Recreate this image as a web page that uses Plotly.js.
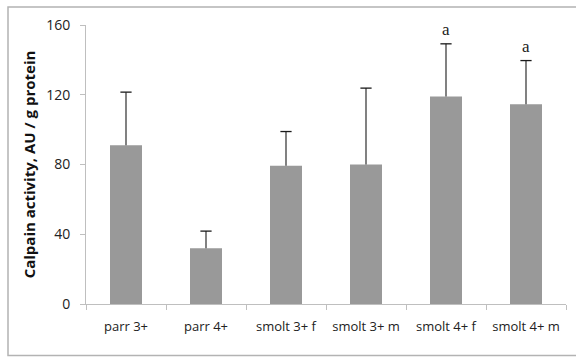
<!DOCTYPE html>
<html>
<head>
<meta charset="utf-8">
<script src="https://cdn.plot.ly/plotly-3.0.1.min.js"></script>
<style>
html,body{margin:0;padding:0;background:#fff;}
#chart{width:576px;height:357px;}
</style>
</head>
<body>
<div id="chart"></div>
<script>
const categories = ["parr 3+", "parr 4+", "smolt 3+ f", "smolt 3+ m", "smolt 4+ f", "smolt 4+ m"];
const values = [91, 32, 79.3, 80, 119, 114.6];
const errorUp = [30.5, 9.8, 19.6, 43.8, 30.2, 25];
const letters = ["", "", "", "", "a", "a"];

const barTrace = {
  type: "bar",
  x: categories,
  y: values,
  marker: {color: "#999999"},
  hoverinfo: "none"
};

// upward-only error bars: stems from bar top to top of error
const stemX = [], stemY = [];
categories.forEach((c, i) => {
  stemX.push(c, c, null);
  stemY.push(values[i], values[i] + errorUp[i], null);
});
const stemTrace = {
  type: "scatter", mode: "lines",
  x: stemX, y: stemY,
  line: {color: "#1a1a1a", width: 1.1},
  connectgaps: false, hoverinfo: "none"
};
const capTrace = {
  type: "scatter", mode: "markers",
  x: categories, y: values.map((v, i) => v + errorUp[i]),
  marker: {symbol: "line-ew", size: 8, line: {color: "#1a1a1a", width: 1.3}},
  hoverinfo: "none"
};

const annotations = [];
categories.forEach((c, i) => {
  if (letters[i]) {
    annotations.push({
      x: c, y: values[i] + errorUp[i], xref: "x", yref: "y",
      text: letters[i], showarrow: false, yanchor: "bottom", yshift: 3,
      font: {family: "Liberation Serif", size: 17, color: "#222"}
    });
  }
});

const L = 86, W = 480, T = 25, H = 279;
function px(x){ return (x - L) / W; }
function py(y){ return 1 - (y - T) / H; }

const layout = {
  width: 576, height: 357,
  margin: {l: L, r: 576 - L - W, t: T, b: 357 - T - H},
  paper_bgcolor: "#fff", plot_bgcolor: "#fff",
  bargap: 0.6,
  showlegend: false,
  font: {family: "Open Sans", size: 12, color: "#222"},
  xaxis: {
    type: "category",
    showline: true, linecolor: "#bfbfbf", linewidth: 1,
    ticks: "outside", tickson: "boundaries", ticklen: 5, tickcolor: "#bfbfbf",
    tickfont: {family: "Open Sans", size: 13, color: "#222"},
    ticklabelstandoff: 10,
    automargin: false
  },
  yaxis: {
    range: [0, 160], dtick: 40, tick0: 0,
    showgrid: false, zeroline: false,
    showline: true, linecolor: "#bfbfbf", linewidth: 1,
    ticks: "outside", ticklen: 5, tickcolor: "#bfbfbf",
    tickfont: {family: "Open Sans", size: 14, color: "#222"},
    ticklabelstandoff: 7,
    title: {text: "<b>Calpain activity, AU / g protein</b>", font: {family: "Open Sans", size: 15, color: "#111"}, standoff: 6},
    automargin: false
  },
  annotations: annotations,
  shapes: [{
    type: "rect", xref: "paper", yref: "paper",
    x0: px(8), x1: px(590), y0: py(355.5), y1: py(7),
    line: {color: "#b3b3b3", width: 1.5}, fillcolor: "rgba(0,0,0,0)", layer: "below"
  }]
};

Plotly.newPlot("chart", [barTrace, stemTrace, capTrace], layout, {staticPlot: true, displayModeBar: false});
</script>
</body>
</html>
